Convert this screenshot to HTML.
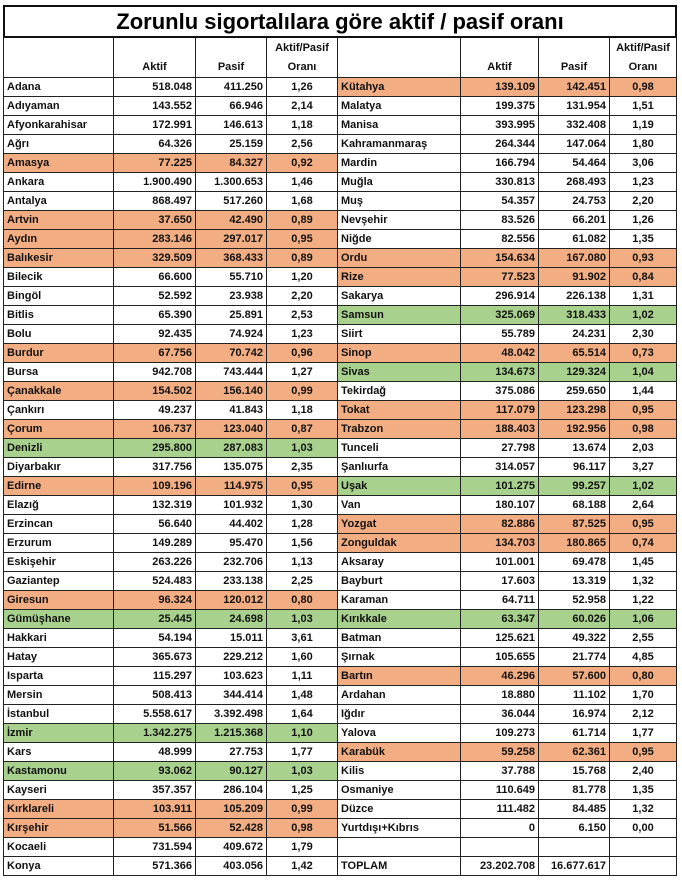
<!DOCTYPE html>
<html><head><meta charset="utf-8">
<style>
body{margin:0;width:682px;height:882px;background:#fff;overflow:hidden;font-family:"Liberation Sans",sans-serif;}
#wrap{position:absolute;left:0;top:0;width:682px;height:882px;}
.c{position:absolute;box-sizing:border-box;border-right:1px solid #222;border-bottom:1px solid #222;font-size:11px;font-weight:bold;line-height:18px;white-space:nowrap;overflow:hidden;color:#111;}
.l{padding-left:3px;text-align:left}
.r{padding-right:3px;text-align:right}
.m{text-align:center}
#title{position:absolute;left:3px;top:5px;width:674px;height:33px;box-sizing:border-box;border:2px solid #111;font-size:22px;font-weight:bold;text-align:center;line-height:30px;}
</style></head><body>
<div id="wrap">
<div id="title">Zorunlu sigortalılara göre aktif / pasif oranı</div>
</div>
<script>
const leftNames=["Adana","Adıyaman","Afyonkarahisar","Ağrı","Amasya","Ankara","Antalya","Artvin","Aydın","Balıkesir","Bilecik","Bingöl","Bitlis","Bolu","Burdur","Bursa","Çanakkale","Çankırı","Çorum","Denizli","Diyarbakır","Edirne","Elazığ","Erzincan","Erzurum","Eskişehir","Gaziantep","Giresun","Gümüşhane","Hakkari","Hatay","Isparta","Mersin","İstanbul","İzmir","Kars","Kastamonu","Kayseri","Kırklareli","Kırşehir","Kocaeli","Konya"];
const leftAktif=["518.048","143.552","172.991","64.326","77.225","1.900.490","868.497","37.650","283.146","329.509","66.600","52.592","65.390","92.435","67.756","942.708","154.502","49.237","106.737","295.800","317.756","109.196","132.319","56.640","149.289","263.226","524.483","96.324","25.445","54.194","365.673","115.297","508.413","5.558.617","1.342.275","48.999","93.062","357.357","103.911","51.566","731.594","571.366"];
const leftPasif=["411.250","66.946","146.613","25.159","84.327","1.300.653","517.260","42.490","297.017","368.433","55.710","23.938","25.891","74.924","70.742","743.444","156.140","41.843","123.040","287.083","135.075","114.975","101.932","44.402","95.470","232.706","233.138","120.012","24.698","15.011","229.212","103.623","344.414","3.392.498","1.215.368","27.753","90.127","286.104","105.209","52.428","409.672","403.056"];
const leftOran=["1,26","2,14","1,18","2,56","0,92","1,46","1,68","0,89","0,95","0,89","1,20","2,20","2,53","1,23","0,96","1,27","0,99","1,18","0,87","1,03","2,35","0,95","1,30","1,28","1,56","1,13","2,25","0,80","1,03","3,61","1,60","1,11","1,48","1,64","1,10","1,77","1,03","1,25","0,99","0,98","1,79","1,42"];
const leftColor="....o..ooo....o.o.og.o.....ogw....gwg.oo..".split("");
const rightNames=["Kütahya","Malatya","Manisa","Kahramanmaraş","Mardin","Muğla","Muş","Nevşehir","Niğde","Ordu","Rize","Sakarya","Samsun","Siirt","Sinop","Sivas","Tekirdağ","Tokat","Trabzon","Tunceli","Şanlıurfa","Uşak","Van","Yozgat","Zonguldak","Aksaray","Bayburt","Karaman","Kırıkkale","Batman","Şırnak","Bartın","Ardahan","Iğdır","Yalova","Karabük","Kilis","Osmaniye","Düzce","Yurtdışı+Kıbrıs","","TOPLAM"];
const rightAktif=["139.109","199.375","393.995","264.344","166.794","330.813","54.357","83.526","82.556","154.634","77.523","296.914","325.069","55.789","48.042","134.673","375.086","117.079","188.403","27.798","314.057","101.275","180.107","82.886","134.703","101.001","17.603","64.711","63.347","125.621","105.655","46.296","18.880","36.044","109.273","59.258","37.788","110.649","111.482","0","","23.202.708"];
const rightPasif=["142.451","131.954","332.408","147.064","54.464","268.493","24.753","66.201","61.082","167.080","91.902","226.138","318.433","24.231","65.514","129.324","259.650","123.298","192.956","13.674","96.117","99.257","68.188","87.525","180.865","69.478","13.319","52.958","60.026","49.322","21.774","57.600","11.102","16.974","61.714","62.361","15.768","81.778","84.485","6.150","","16.677.617"];
const rightOran=["0,98","1,51","1,19","1,80","3,06","1,23","2,20","1,26","1,35","0,93","0,84","1,31","1,02","2,30","0,73","1,04","1,44","0,95","0,98","2,03","3,27","1,02","2,64","0,95","0,74","1,45","1,32","1,22","1,06","2,55","4,85","0,80","1,70","2,12","1,77","0,95","2,40","1,35","1,32","0,00","",""];
const rightColor="o........oo.g.og.oo..g.oo...g..o...o......".split("");

const wrap=document.getElementById('wrap');
const colors={o:"#f2ad82",g:"#a9d18e",w:"#fff",".":"#fff"};
const lx=[3,114,196,267,338], rx=[338,461,539,610,677];
const top0=78, rh=19;
function cell(x,y,w,h,txt,cls,bg,name){
  const d=document.createElement('div');
  d.className='c '+cls;
  d.style.left=x+'px';d.style.top=y+'px';d.style.width=w+'px';d.style.height=h+'px';
  d.style.background=bg;d.textContent=txt;
  
  
  wrap.appendChild(d);return d;
}
function header(xs,side){
  const h=40,y=38;
  cell(xs[0],y,xs[1]-xs[0],h,"","l","#fff",side+"-header-name");
  const a=cell(xs[1],y,xs[2]-xs[1],h,"Aktif","m","#fff",side+"-header-aktif");a.style.paddingTop='20px';
  const p=cell(xs[2],y,xs[3]-xs[2],h,"Pasif","m","#fff",side+"-header-pasif");p.style.paddingTop='20px';
  const o=cell(xs[3],y,xs[4]-xs[3],h,"","m","#fff",side+"-header-oran");
  o.innerHTML="Aktif/Pasif<br>Oranı";o.style.lineHeight='19px';o.style.paddingTop='1px';
}
header(lx,"left");header(rx,"right");
wrap.querySelectorAll('.c').forEach(e=>{if(e.style.left==='3px')e.style.borderLeft='1px solid #222';});
function rows(xs,names,ak,pa,or,col,side){
  for(let i=0;i<names.length;i++){
    const y=top0+i*rh, bg=colors[col[i]]||"#fff";
    const n=cell(xs[0],y,xs[1]-xs[0],rh,names[i],"l",bg,side+"-province-name");
    if(side==="left")n.style.borderLeft='1px solid #222';
    cell(xs[1],y,xs[2]-xs[1],rh,ak[i],"r",bg,side+"-aktif-value");
    cell(xs[2],y,xs[3]-xs[2],rh,pa[i],"r",bg,side+"-pasif-value");
    cell(xs[3],y,xs[4]-xs[3],rh,or[i],"m",bg,side+"-oran-value");
  }
}
rows(lx,leftNames,leftAktif,leftPasif,leftOran,leftColor,"left");
rows(rx,rightNames,rightAktif,rightPasif,rightOran,rightColor,"right");
</script>
</body></html>
